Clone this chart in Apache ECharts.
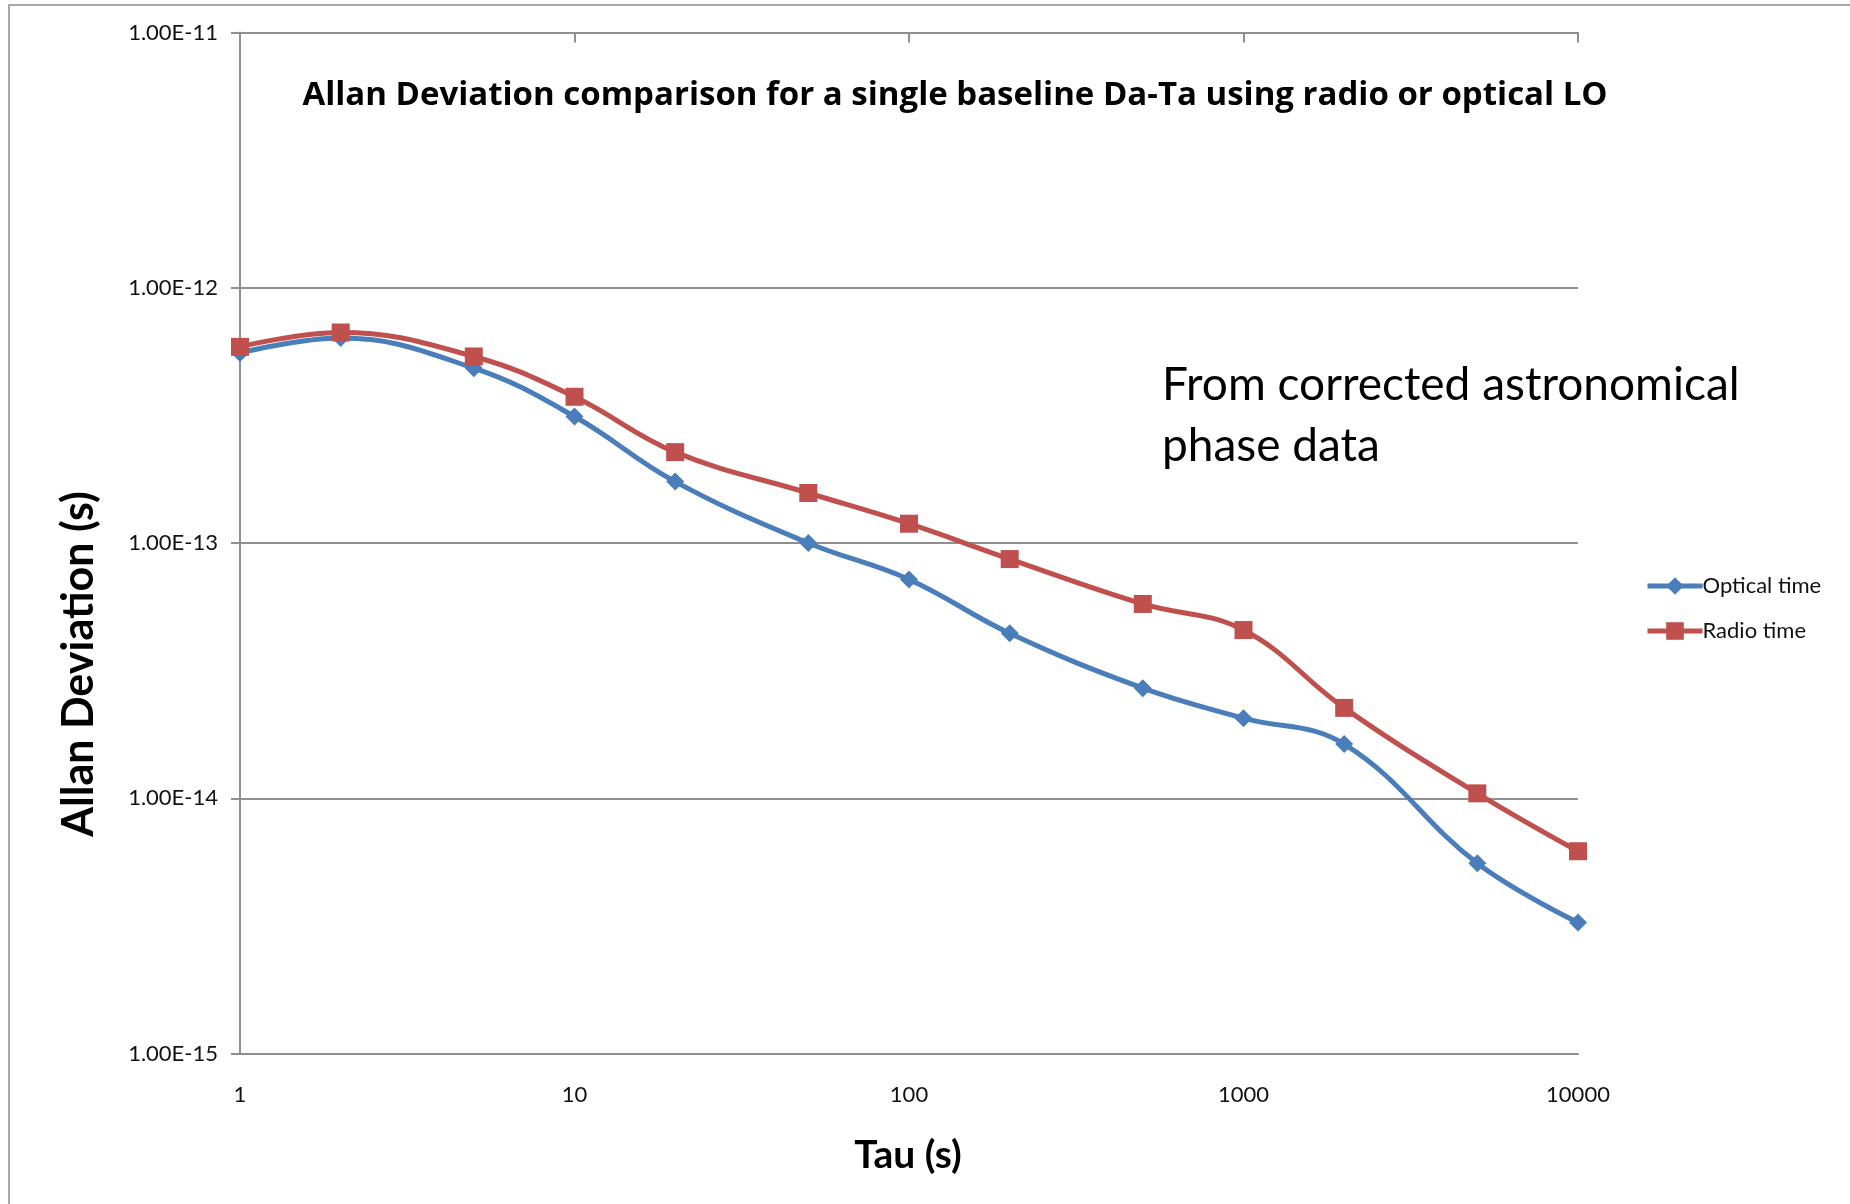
<!DOCTYPE html>
<html>
<head>
<meta charset="utf-8">
<title>Allan Deviation comparison</title>
<script src="https://cdn.jsdelivr.net/npm/echarts@6/dist/echarts.min.js"></script>
<style>
  html, body { margin: 0; padding: 0; background: #fff; }
  #chart { width: 1850px; height: 1204px; }
</style>
</head>
<body>
<div id="chart"></div>
<script>
// Averaging time (s)
const tau = [1, 2, 5, 10, 20, 50, 100, 200, 500, 1000, 2000, 5000, 10000];
// Allan deviation (s) with optical LO
const opticalTime = [5.55e-13, 6.35e-13, 4.84e-13, 3.13e-13, 1.74e-13, 1.0e-13, 7.2e-14, 4.43e-14, 2.70e-14, 2.06e-14, 1.63e-14, 5.56e-15, 3.26e-15];
// Allan deviation (s) with radio LO
const radioTime = [5.87e-13, 6.68e-13, 5.38e-13, 3.74e-13, 2.27e-13, 1.57e-13, 1.19e-13, 8.65e-14, 5.77e-14, 4.56e-14, 2.26e-14, 1.045e-14, 6.2e-15];

const seriesNames = ['Optical time', 'Radio time'];
const xTickLabels = ['1', '10', '100', '1000', '10000'];
const yTickLabels = ['1.00E-15', '1.00E-14', '1.00E-13', '1.00E-12', '1.00E-11'];

const titleText = 'Allan Deviation comparison for a single baseline Da-Ta using radio or optical LO';
const noteText = 'From corrected astronomical\nphase data';
const xTitle = 'Tau (s)';
const yTitle = 'Allan Deviation (s)';

const FONT = 'Lato, "Open Sans", sans-serif';
const TITLE_FONT = '"Open Sans", Lato, sans-serif';
const GRID_COLOR = '#8f8f8f';
const BLUE = '#4a7ebb';
const RED = '#c0504d';

function decadeIndex(v) { return Math.round(Math.log10(v)); }

const chart = echarts.init(document.getElementById('chart'), null, { renderer: 'canvas' });

chart.setOption({
  backgroundColor: '#ffffff',
  animation: false,
  textStyle: { fontFamily: FONT },
  title: {
    text: titleText,
    left: 950,
    textAlign: 'center',
    top: 74,
    textStyle: { fontFamily: TITLE_FONT, fontWeight: 'bold', fontSize: 33, color: '#000' }
  },
  legend: {
    orient: 'vertical',
    left: 1640,
    top: 570,
    itemWidth: 55,
    itemHeight: 22,
    itemGap: 23,
    data: seriesNames,
    lineStyle: { width: 5 },
    textStyle: { fontFamily: FONT, fontSize: 22, color: '#111', padding: [0, 0, 0, -5] }
  },
  grid: { left: 240, right: 272, top: 32.5, bottom: 150.5, containLabel: false },
  xAxis: [
    {
      type: 'log',
      logBase: 10,
      min: 1,
      max: 10000,
      position: 'bottom',
      axisLine: { show: true, lineStyle: { color: GRID_COLOR, width: 2 } },
      axisTick: { show: false },
      splitLine: { show: false },
      minorTick: { show: false },
      axisLabel: {
        margin: 30,
        fontFamily: FONT,
        fontSize: 22,
        color: '#111',
        formatter: v => xTickLabels[decadeIndex(v)]
      }
    },
    {
      type: 'log',
      logBase: 10,
      min: 1,
      max: 10000,
      position: 'top',
      axisLine: { show: true, lineStyle: { color: GRID_COLOR, width: 2 } },
      axisTick: { show: true, inside: true, length: 10, lineStyle: { color: GRID_COLOR, width: 2 } },
      axisLabel: { show: false },
      splitLine: { show: false }
    }
  ],
  yAxis: {
    type: 'log',
    logBase: 10,
    min: 1e-15,
    max: 1e-11,
    axisLine: { show: true, lineStyle: { color: GRID_COLOR, width: 2 } },
    axisTick: { show: true, length: 9, lineStyle: { color: GRID_COLOR, width: 2 } },
    splitLine: { show: true, lineStyle: { color: GRID_COLOR, width: 2 } },
    axisLabel: {
      margin: 22,
      fontFamily: FONT,
      fontSize: 22,
      color: '#111',
      formatter: v => yTickLabels[decadeIndex(v) + 15]
    }
  },
  graphic: [
    {
      type: 'rect',
      silent: true,
      shape: { x: 9, y: 5, width: 3000, height: 3000 },
      style: { fill: 'none', stroke: '#a8a8a8', lineWidth: 2 },
      z: -1
    },
    {
      type: 'text',
      left: 1162,
      top: 355,
      style: {
        text: noteText,
        font: '46px ' + FONT,
        fill: '#000',
        lineHeight: 61
      }
    },
    {
      type: 'text',
      x: 908,
      y: 1155,
      style: {
        text: xTitle,
        font: 'bold 39px ' + FONT,
        fill: '#000',
        align: 'center',
        verticalAlign: 'middle'
      }
    },
    {
      type: 'text',
      x: 79,
      y: 664,
      rotation: Math.PI / 2,
      style: {
        text: yTitle,
        font: 'bold 43px ' + FONT,
        fill: '#000',
        align: 'center',
        verticalAlign: 'middle'
      }
    }
  ],
  series: [
    {
      name: seriesNames[0],
      type: 'line',
      smooth: 0.4,
      data: tau.map((t, i) => [t, opticalTime[i]]),
      symbol: 'diamond',
      symbolSize: 18,
      lineStyle: { color: BLUE, width: 5 },
      itemStyle: { color: BLUE },
      z: 3
    },
    {
      name: seriesNames[1],
      type: 'line',
      smooth: 0.4,
      data: tau.map((t, i) => [t, radioTime[i]]),
      symbol: 'rect',
      symbolSize: 18,
      lineStyle: { color: RED, width: 5 },
      itemStyle: { color: RED },
      z: 4
    }
  ]
});
</script>
</body>
</html>
